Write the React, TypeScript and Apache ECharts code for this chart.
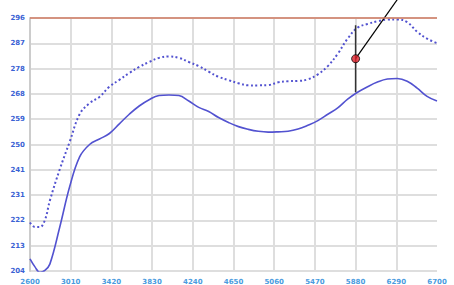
import React, { useEffect, useRef } from "react";
import * as echarts from "echarts";

const xValues = [2600, 2650, 2700, 2750, 2800, 2900, 3000, 3100, 3200, 3300, 3400, 3500, 3600, 3700, 3800, 3900, 4000, 4100, 4200, 4300, 4400, 4500, 4600, 4700, 4800, 4900, 5000, 5100, 5200, 5300, 5400, 5500, 5600, 5700, 5800, 5900, 6000, 6100, 6200, 6300, 6400, 6500, 6600, 6700];
const solidValues = [208.4, 205.5, 203.5, 204.2, 206.5, 220, 234.7, 245.5, 250, 252, 254, 257.5, 261, 264, 266.3, 267.8, 268, 267.8, 265.8, 263.5, 262, 259.8, 258, 256.5, 255.5, 254.8, 254.5, 254.6, 254.8, 255.6, 257, 258.7, 261, 263.3, 266.5, 269, 271, 272.7, 273.8, 274, 273, 270.5, 267.5, 265.8];
const dottedValues = [221.6, 220, 220, 222.5, 229.6, 241, 251, 261, 265, 267.3, 271, 273.5, 276, 278.2, 280, 281.5, 282, 281.5, 280, 278.5, 276.5, 274.6, 273.4, 272.3, 271.5, 271.5, 271.6, 272.6, 273, 273.1, 273.7, 275.5, 278.5, 283, 288.5, 292.5, 293.8, 294.8, 295.4, 295.5, 294.5, 291, 288.5, 286.9];
const yTickLabels = ["204", "213", "222", "231", "241", "250", "259", "268", "278", "287", "296"];
const xTickLabels = ["2600", "3010", "3420", "3830", "4240", "4650", "5060", "5470", "5880", "6290", "6700"];
const limitValue = 296;
const markerX = 5880;
const markerRange = [269, 293.4];
const markerDot = 281.2;
const pointerEnd = [6415, 308.6];

export default function App() {
  const ref = useRef<HTMLDivElement>(null);
  useEffect(() => {
    if (!ref.current) return;
    const chart = echarts.init(ref.current, null, { renderer: "svg" });
    const lineColor = "#5252d0";
    const gridColor = "#dedede";
    const vGridColors = xTickLabels.map((_, i) => (i === xTickLabels.length - 1 ? "rgba(0,0,0,0)" : gridColor));
    chart.setOption({
      animation: false,
      grid: { left: 30, right: 17, top: 18, bottom: 14, containLabel: false },
      xAxis: {
        type: "value",
        min: 2600,
        max: 6700,
        interval: 410,
        axisLine: { show: false },
        axisTick: { show: false },
        axisLabel: {
          color: "#4a9be0",
          fontSize: 7,
          fontWeight: "bold",
          fontFamily: "DejaVu Sans",
          margin: 7,
          formatter: (v: number) => xTickLabels[Math.round((v - 2600) / 410)] ?? "",
        },
        splitLine: { show: true, lineStyle: { color: vGridColors, width: 2 } },
      },
      yAxis: {
        type: "value",
        min: 204,
        max: 296,
        interval: 9.2,
        axisLine: { show: true, lineStyle: { color: "#cccccc", width: 2 } },
        axisTick: { show: false },
        axisLabel: {
          color: "#3a62d4",
          fontSize: 7,
          fontWeight: "bold",
          fontFamily: "DejaVu Sans",
          margin: 5,
          formatter: (v: number) => yTickLabels[Math.round((v - 204) / 9.2)] ?? "",
        },
        splitLine: { show: true, lineStyle: { color: gridColor, width: 2 } },
      },
      series: [
        {
          type: "line",
          data: xValues.map((x, i) => [x, solidValues[i]]),
          smooth: 0.4,
          showSymbol: false,
          lineStyle: { color: lineColor, width: 1.6 },
          markLine: {
            silent: true,
            symbol: "none",
            label: { show: false },
            lineStyle: { color: "#d07a60", width: 1.5, type: "solid" },
            data: [{ yAxis: limitValue }],
          },
        },
        {
          type: "line",
          data: xValues.map((x, i) => [x, dottedValues[i]]),
          smooth: 0.4,
          showSymbol: false,
          lineStyle: { color: lineColor, width: 2, type: [2, 2.5] },
        },
        {
          type: "line",
          data: [[markerX, markerRange[0]], [markerX, markerRange[1]]],
          showSymbol: false,
          lineStyle: { color: "#333333", width: 1.5 },
        },
        {
          type: "line",
          clip: false,
          data: [[markerX, markerDot], pointerEnd],
          showSymbol: false,
          lineStyle: { color: "#000000", width: 1.2 },
        },
        {
          type: "scatter",
          data: [[markerX, markerDot]],
          symbolSize: 8,
          itemStyle: { color: "#e0202a", borderColor: "#000000", borderWidth: 1 },
          z: 10,
        },
      ],
    });
    return () => chart.dispose();
  }, []);
  return <div ref={ref} style={{ position: "fixed", left: 0, top: 0, width: 454, height: 285, background: "#ffffff" }} />;
}
